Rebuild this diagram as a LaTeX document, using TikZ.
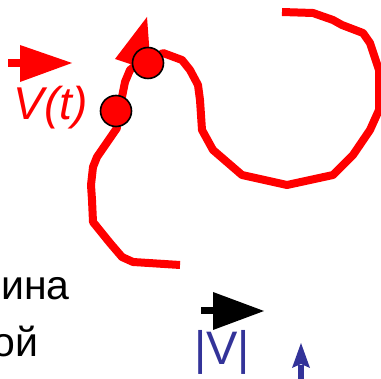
\documentclass[tikz,border=0pt]{standalone}
\usepackage{fontspec}
\setmainfont{Liberation Sans}
\definecolor{vblue}{HTML}{333399}

\begin{document}
\begin{tikzpicture}[x=0.5pt, y=-0.5pt,
        trajectory/.style={red, line width=4pt, line join=round},
        dot/.style={circle, draw=black, line width=0.8pt, fill=red, minimum size=15.5pt, inner sep=0pt},
        txt/.style={inner sep=0pt}]
        \useasboundingbox (0,0) rectangle (381,379);
        \clip (0,0) rectangle (381,379);

        % Draw the trajectory
        \draw[trajectory] (180,265) -- (133,262) -- (122,257) -- (110,243) -- (93,222)
            -- (92,200) -- (91,185) -- (93,167) -- (97,157) -- (117,128) -- (116,111)
            -- (122,97) -- (125,82) -- (130,70) -- (140,62) -- (148,63) -- (163,53)
            -- (182,60) -- (190,70) -- (198,85) -- (200,100) -- (202,130) -- (213,150)
            -- (242,175) -- (287,185) -- (333,175) -- (353,155) -- (370,130) -- (379,110)
            -- (379,70) -- (370,43) -- (363,33) -- (342,25) -- (333,20) -- (313,13) -- (282,12);
        \fill[red] (147,17) -- (115,59) -- (151,71) -- cycle;

        % Draw the points on it
        \node[dot] (p1) at (148,63) {};
        \node[dot] (p2) at (116,111) {};

        % Draw the velocity V(t)
        \fill[red] (8,59) rectangle (21,67);
        \fill[red] (20,45) -- (72,63) -- (20,82) -- cycle;
        \node[txt, anchor=base west, red, font=\fontsize{23}{27}\selectfont\itshape] (vt) at (13,120) {V(t)};

        % Draw the text on the left
        \node[txt, anchor=base east, font=\fontsize{20.5}{24}\selectfont] (ina) at (70,300) {ина};
        \node[txt, anchor=base east, font=\fontsize{20.5}{24}\selectfont] (oy) at (39,357) {ой};

        % Draw the magnitude |V|
        \fill (201,307.5) rectangle (214,314.5);
        \fill (213,292) -- (264,311) -- (213,330) -- cycle;
        \node[txt, anchor=base west, vblue, font=\fontsize{23.5}{27}\selectfont] (absv) at (194,365) {|V|};
        \fill[vblue] (298,365) rectangle (304,379);
        \fill[vblue] (301,343) -- (310,368) -- (301,364) -- (292,368) -- cycle;
    \end{tikzpicture}
\end{document}
